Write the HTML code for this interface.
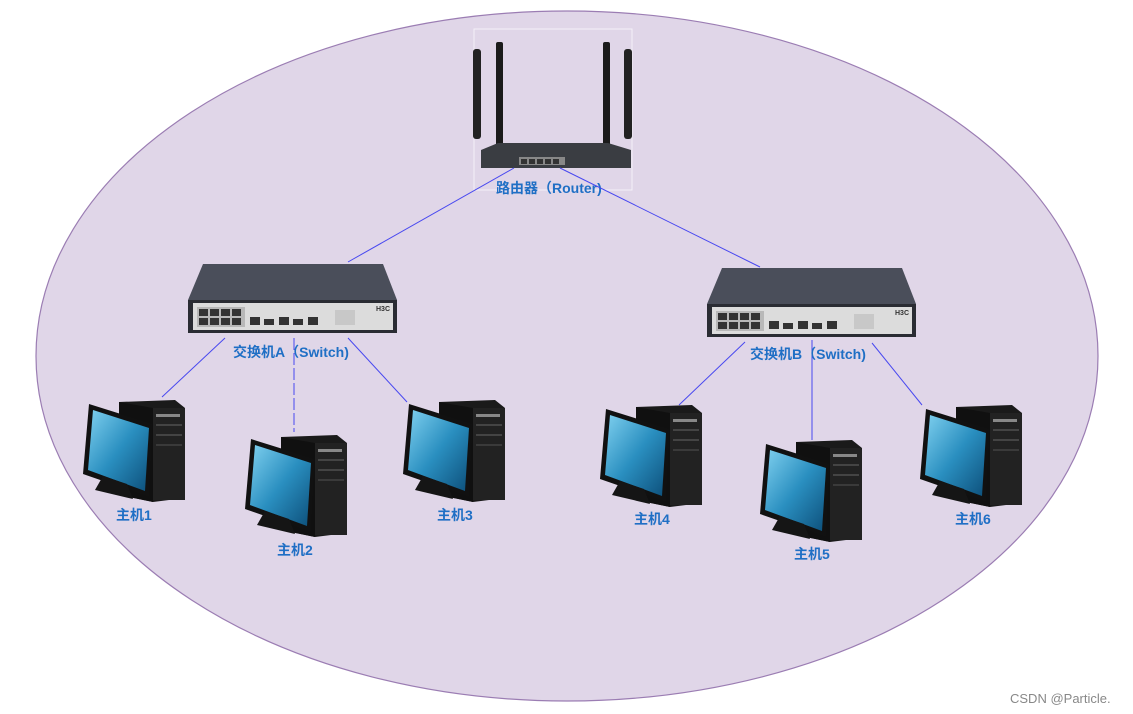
<!DOCTYPE html>
<html><head><meta charset="utf-8"><style>
html,body{margin:0;padding:0;background:#fff;width:1133px;height:714px;overflow:hidden}
svg{display:block}
text{font-family:"Liberation Sans","Noto Sans CJK SC",sans-serif;font-weight:bold;fill:#1f6fc5}
</style></head><body>
<svg width="1133" height="714" viewBox="0 0 1133 714" xmlns="http://www.w3.org/2000/svg">
<defs>
<linearGradient id="scr" x1="0" y1="0" x2="1" y2="1">
<stop offset="0" stop-color="#7fd0ef"/><stop offset="0.5" stop-color="#2a8fc0"/><stop offset="1" stop-color="#0d4f7a"/></linearGradient>
<g id="pc">
<!-- tower -->
<polygon points="36,0 92,-2 102,6 102,96 70,100 36,93" fill="#1a1a1a"/>
<polygon points="36,0 70,6 70,100 36,93" fill="#101010"/>
<rect x="70" y="6" width="32" height="92" fill="#222"/>
<rect x="73" y="12" width="24" height="3" fill="#888"/>
<rect x="73" y="22" width="26" height="2" fill="#444"/>
<rect x="73" y="32" width="26" height="2" fill="#444"/>
<rect x="73" y="42" width="26" height="2" fill="#3a3a3a"/>
<!-- monitor -->
<polygon points="6,2 70,22 66,95 0,72" fill="#111"/>
<polygon points="10,8 66,26 62,89 5,68" fill="url(#scr)"/>
<polygon points="20,74 44,82 50,97 12,88" fill="#151515"/>
</g>
<g id="sw">
<polygon points="203,264 383,264 397,300 188,300" fill="#4a4e5a"/>
<rect x="188" y="300" width="209" height="33" fill="#2a2c33"/>
<rect x="193" y="303" width="200" height="27" fill="#dcdcdc"/>
<rect x="197" y="307" width="48" height="20" fill="#b8b8b8"/>
<g fill="#333"><rect x="199" y="309" width="9" height="7"/><rect x="210" y="309" width="9" height="7"/><rect x="221" y="309" width="9" height="7"/><rect x="232" y="309" width="9" height="7"/>
<rect x="199" y="318" width="9" height="7"/><rect x="210" y="318" width="9" height="7"/><rect x="221" y="318" width="9" height="7"/><rect x="232" y="318" width="9" height="7"/>
<rect x="250" y="317" width="10" height="8"/><rect x="264" y="319" width="10" height="6"/><rect x="279" y="317" width="10" height="8"/><rect x="293" y="319" width="10" height="6"/><rect x="308" y="317" width="10" height="8"/></g>
<rect x="335" y="310" width="20" height="15" fill="#c8c8c8"/>
<text x="376" y="311" font-size="7" style="fill:#333">H3C</text>
</g>
</defs>
<ellipse cx="567" cy="356" rx="531" ry="345" fill="#e0d6e8" stroke="#9b7db3" stroke-width="1.2"/>
<rect x="474" y="29" width="158" height="161" fill="none" stroke="#f4f0f8" stroke-width="1"/>
<rect x="473" y="49" width="8" height="90" rx="3" fill="#222"/>
<rect x="496" y="42" width="7" height="108" rx="2" fill="#1b1b1b"/>
<rect x="603" y="42" width="7" height="108" rx="2" fill="#1b1b1b"/>
<rect x="624" y="49" width="8" height="90" rx="3" fill="#222"/>
<polygon points="481,150 498,143 608,143 631,150 631,168 481,168" fill="#3a3d42"/>
<rect x="519" y="157" width="46" height="8" fill="#888"/>
<g fill="#333"><rect x="521" y="159" width="6" height="5"/><rect x="529" y="159" width="6" height="5"/><rect x="537" y="159" width="6" height="5"/><rect x="545" y="159" width="6" height="5"/><rect x="553" y="159" width="6" height="5"/></g>
<text x="496" y="193" font-size="14">路由器（Router)</text>
<g stroke="#4848f0" stroke-width="1" fill="none">
<line x1="514" y1="168" x2="348" y2="262"/>
<line x1="560" y1="168" x2="760" y2="267"/>
<line x1="225" y1="338" x2="162" y2="397"/>
<line x1="294" y1="338" x2="294" y2="432" stroke-dasharray="12,3"/>
<line x1="348" y1="338" x2="407" y2="402"/>
<line x1="745" y1="342" x2="679" y2="405"/>
<line x1="812" y1="340" x2="812" y2="440"/>
<line x1="872" y1="343" x2="922" y2="405"/>
</g>
<use href="#sw"/>
<use href="#sw" transform="translate(519,4)"/>
<text x="233" y="357" font-size="14">交换机A（Switch)</text>
<text x="750" y="359" font-size="14">交换机B（Switch)</text>
<use href="#pc" transform="translate(83,402)"/>
<use href="#pc" transform="translate(245,437)"/>
<use href="#pc" transform="translate(403,402)"/>
<use href="#pc" transform="translate(600,407)"/>
<use href="#pc" transform="translate(760,442)"/>
<use href="#pc" transform="translate(920,407)"/>
<text x="116" y="520" font-size="14">主机1</text>
<text x="277" y="555" font-size="14">主机2</text>
<text x="437" y="520" font-size="14">主机3</text>
<text x="634" y="524" font-size="14">主机4</text>
<text x="794" y="559" font-size="14">主机5</text>
<text x="955" y="524" font-size="14">主机6</text>
<text x="1010" y="703" font-size="13" style="font-weight:normal;fill:#888">CSDN @Particle.</text>
</svg>
</body></html>
